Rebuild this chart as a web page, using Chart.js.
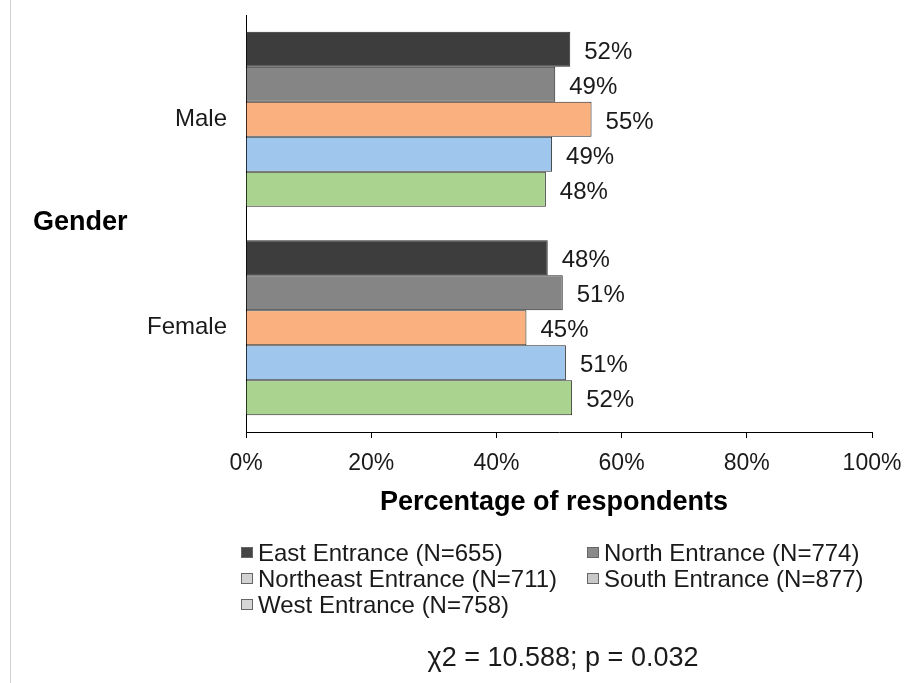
<!DOCTYPE html>
<html>
<head>
<meta charset="utf-8">
<script src="https://cdn.jsdelivr.net/npm/chart.js@4/dist/chart.umd.min.js"></script>
<style>
  html, body { margin: 0; padding: 0; background: #fff; }
  #wrap { position: relative; width: 909px; height: 683px; }
</style>
</head>
<body>
<div id="wrap"><canvas id="genderChart"></canvas></div>
<script>
// Dados
const categories = ['Male', 'Female'];
const seriesLabels = [
    'East Entrance (N=655)',
    'North Entrance (N=774)',
    'Northeast Entrance (N=711)',
    'South Entrance (N=877)',
    'West Entrance (N=758)'
];
const eastValues = [51.8, 48.2];
const northValues = [49.4, 50.6];
const northeastValues = [55.2, 44.8];
const southValues = [48.9, 51.1];
const westValues = [47.9, 52.1];
const xTicks = [0, 20, 40, 60, 80, 100];
const xTitle = 'Percentage of respondents';
const yTitle = 'Gender';
const footnote = 'χ2 = 10.588; p = 0.032';

const FONT = "'Liberation Sans', Arial, sans-serif";

const barColors = ['#3d3d3d', '#858585', '#fbb07f', '#9fc6ec', '#a9d38e'];
const swatchColors = ['#454545', '#8a8a8a', '#d2d2d2', '#c8c8c8', '#d6d6d6'];

const valueLists = [eastValues, northValues, northeastValues, southValues, westValues];

// Rótulos, títulos, legenda e texto extra
const extrasPlugin = {
    id: 'extras',
    afterDraw(chart) {
        const ctx = chart.ctx;
        const area = chart.chartArea;
        ctx.save();

        // linha fina à esquerda
        ctx.strokeStyle = '#d0d0d0';
        ctx.lineWidth = 1;
        ctx.beginPath();
        ctx.moveTo(10.5, 0);
        ctx.lineTo(10.5, 683);
        ctx.stroke();

        // rótulos de valor
        ctx.font = '24px ' + FONT;
        ctx.fillStyle = '#1a1a1a';
        ctx.textAlign = 'left';
        ctx.textBaseline = 'middle';
        chart.data.datasets.forEach((ds, i) => {
            const meta = chart.getDatasetMeta(i);
            meta.data.forEach((bar, j) => {
                ctx.fillText(Math.round(ds.data[j]) + '%', bar.x + 14, bar.y + 3);
            });
        });

        // título do eixo Y
        ctx.font = 'bold 27px ' + FONT;
        ctx.fillStyle = '#000';
        ctx.fillText(yTitle, 33, 223);

        // título do eixo X
        ctx.textAlign = 'center';
        ctx.fillText(xTitle, (area.left + area.right) / 2 - 5, 503);

        // legenda
        const colX = [241, 587];
        const rowY = [552, 578, 604];
        ctx.font = '24px ' + FONT;
        ctx.textAlign = 'left';
        chart.data.datasets.forEach((ds, i) => {
            const x = colX[i % 2];
            const y = rowY[Math.floor(i / 2)];
            ctx.fillStyle = swatchColors[i];
            ctx.fillRect(x, y - 5, 12, 11);
            ctx.strokeStyle = '#666';
            ctx.lineWidth = 1;
            ctx.strokeRect(x + 0.5, y - 4.5, 11, 10);
            ctx.fillStyle = '#1a1a1a';
            ctx.fillText(ds.label, x + 17, y + 2);
        });

        // qui-quadrado
        ctx.textAlign = 'center';
        ctx.font = '27px ' + FONT;
        ctx.fillText(footnote, 563, 659);

        ctx.restore();
    }
};

const genderChart = new Chart(document.getElementById('genderChart'), {
    type: 'bar',
    data: {
        labels: categories,
        datasets: seriesLabels.map((label, i) => ({
            label: label,
            data: valueLists[i],
            backgroundColor: barColors[i],
            borderColor: '#262626',
            borderWidth: 1,
            barPercentage: 1,
            categoryPercentage: 0.84
        }))
    },
    options: {
        indexAxis: 'y',
        responsive: true,
        maintainAspectRatio: false,
        animation: false,
        layout: { padding: { top: 15, right: 37, left: 0, bottom: 0 } },
        plugins: {
            legend: { display: false },
            tooltip: { enabled: false }
        },
        scales: {
            x: {
                min: 0,
                max: 100,
                afterBuildTicks: (scale) => { scale.ticks = xTicks.map(v => ({ value: v })); },
                afterFit: (scale) => {
                    scale.height = 251;
                    scale.paddingLeft = 0;
                    scale.paddingRight = 0;
                },
                grid: { display: true, drawOnChartArea: false, drawTicks: true, tickLength: 6, color: '#000' },
                border: { display: true, color: '#000', width: 1 },
                ticks: {
                    padding: 12,
                    color: '#1a1a1a',
                    font: { family: FONT, size: 23 },
                    callback: v => v + '%'
                }
            },
            y: {
                afterFit: (scale) => {
                    scale.width = 246;
                    scale.paddingTop = 0;
                    scale.paddingBottom = 0;
                },
                grid: { display: false, drawTicks: false },
                border: { display: true, color: '#000', width: 1 },
                ticks: {
                    padding: 19,
                    color: '#1a1a1a',
                    font: { family: FONT, size: 24 }
                }
            }
        }
    },
    plugins: [extrasPlugin]
});
</script>
</body>
</html>
